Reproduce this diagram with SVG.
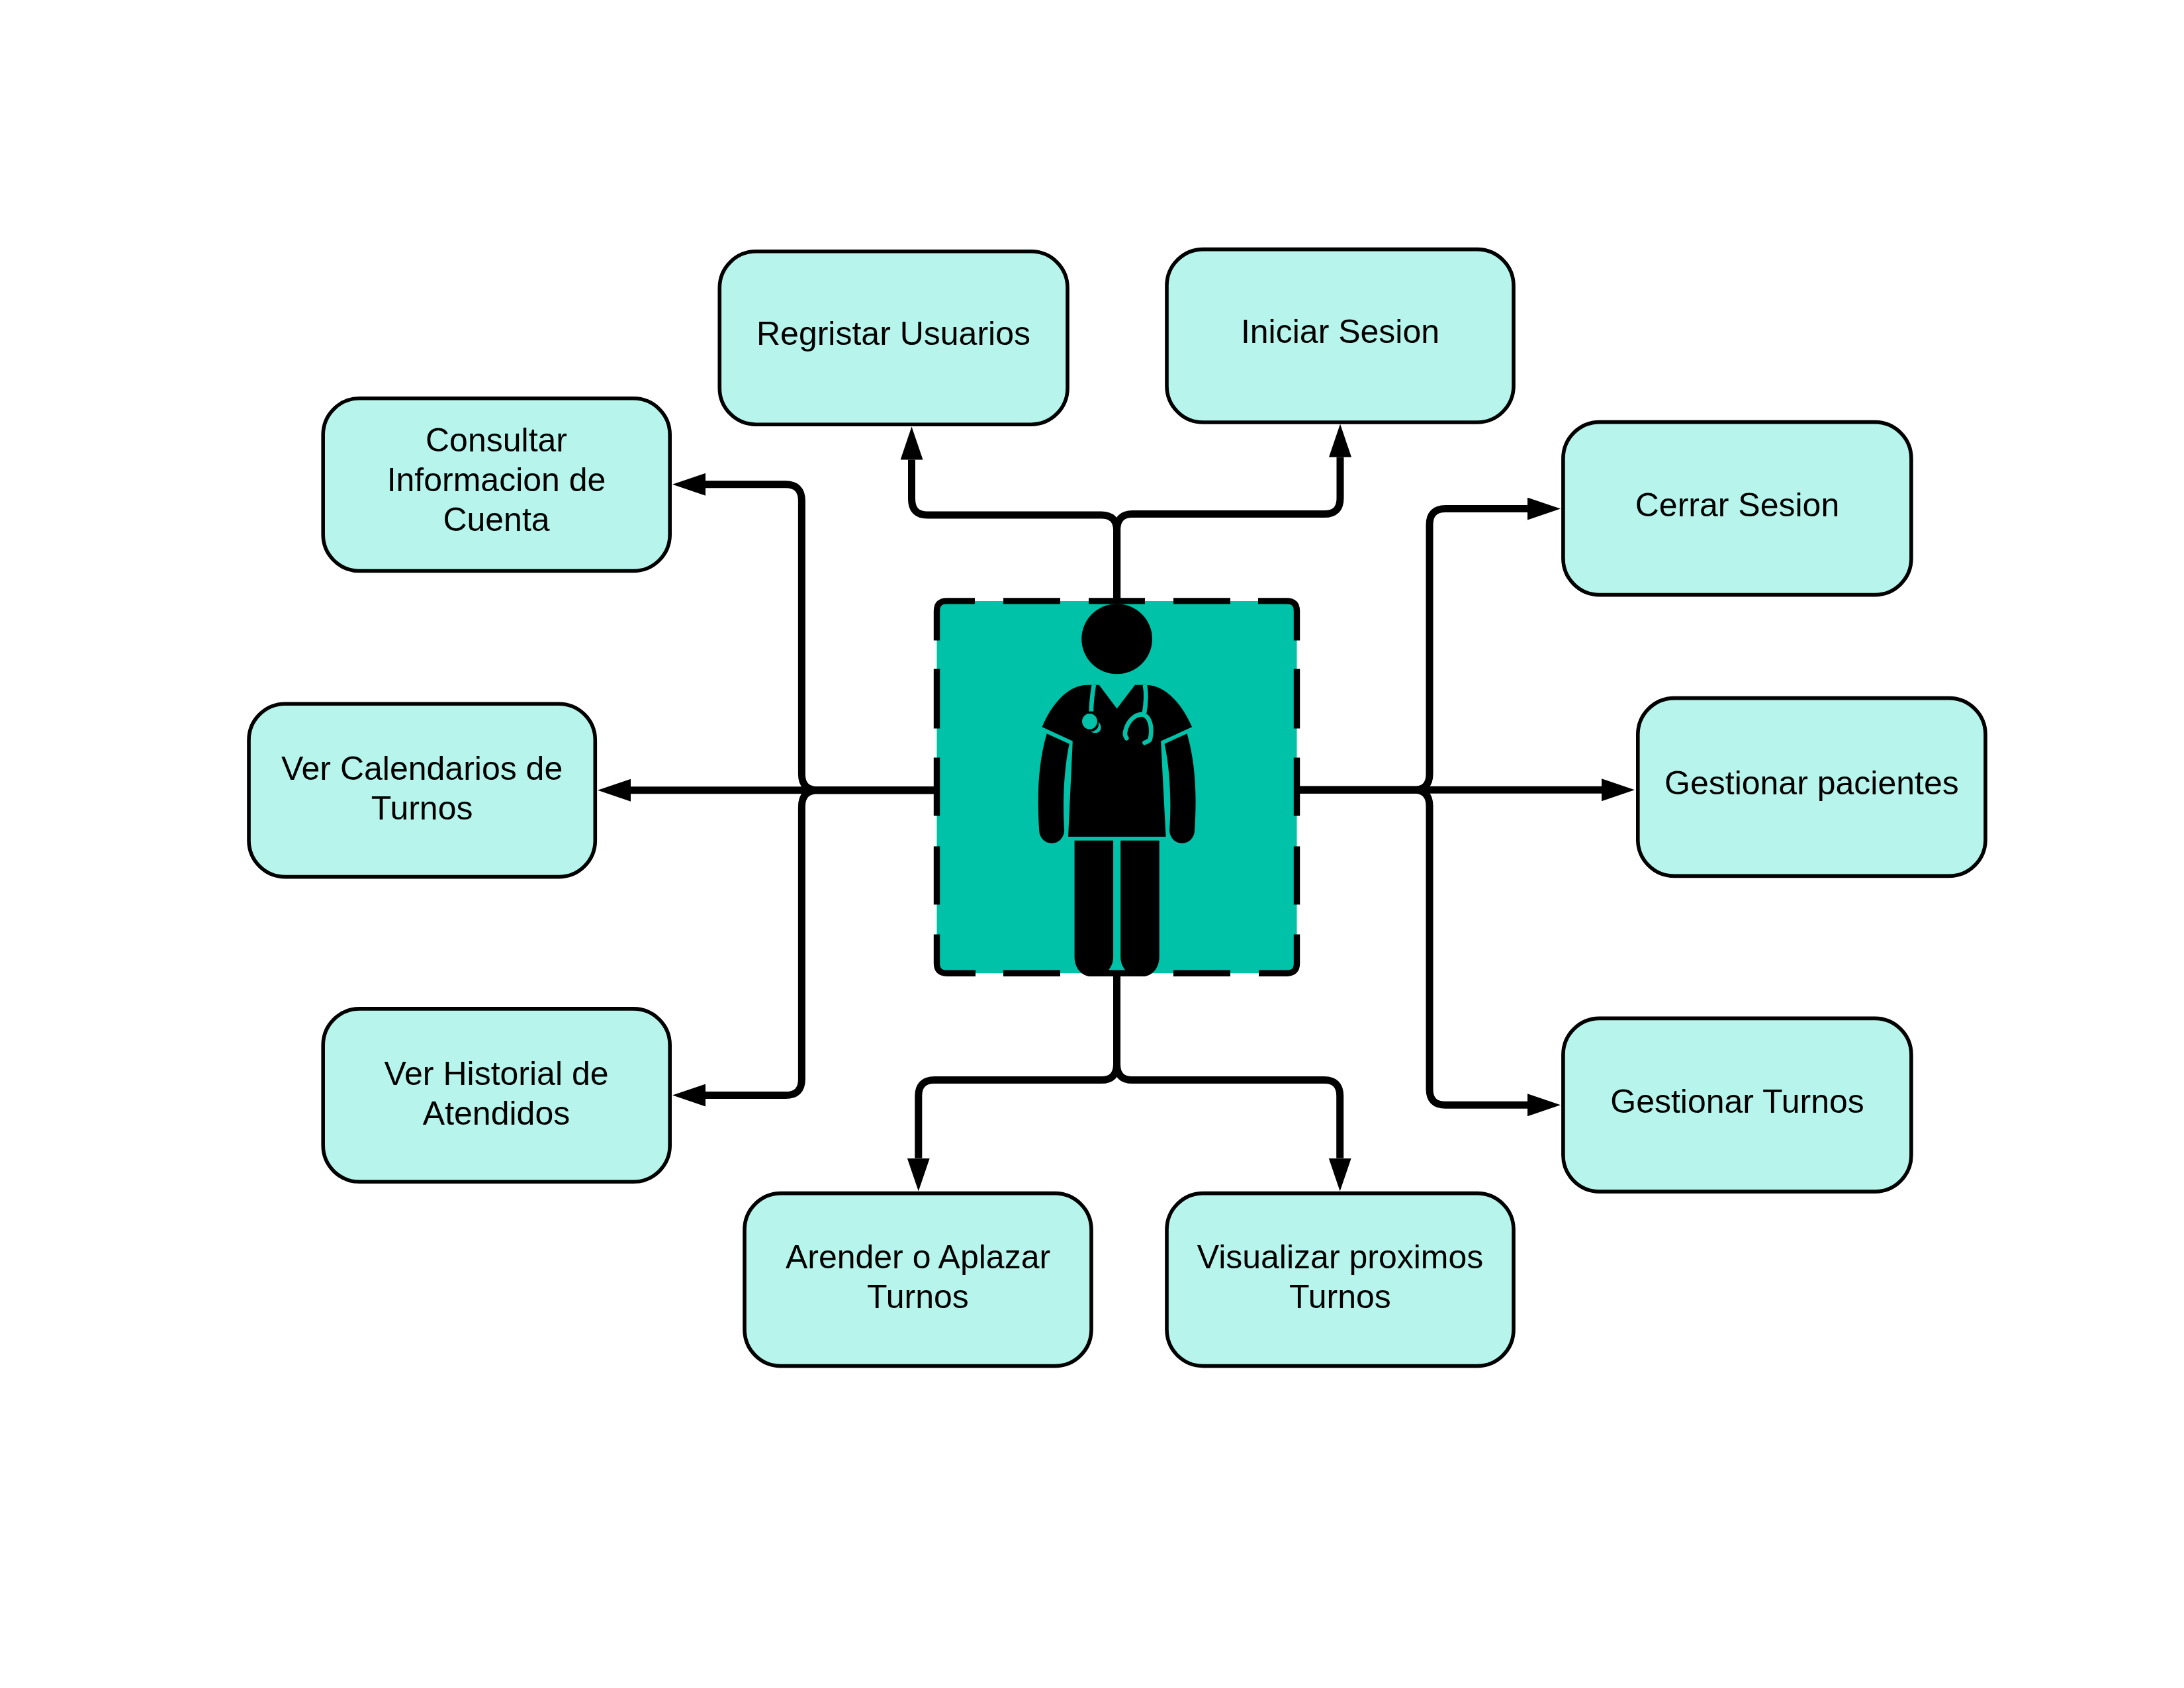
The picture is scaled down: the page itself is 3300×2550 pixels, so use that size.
<svg xmlns="http://www.w3.org/2000/svg" width="3300" height="2550" viewBox="0 0 3300 2550">
<style>
.box{fill:#b7f5ec;stroke:#000;stroke-width:5.6}
.lbl{font-family:"Liberation Sans",Arial,sans-serif;font-size:50px;fill:#000;text-anchor:middle}
.con{fill:none;stroke:#000;stroke-width:11;stroke-linejoin:round;marker-end:url(#arrow)}
.st{fill:none;stroke:#00c2a8;stroke-width:17;stroke-linecap:round}
</style>
<defs>
<marker id="arrow" markerUnits="userSpaceOnUse" markerWidth="52" markerHeight="34" refX="0" refY="17" orient="auto"><path d="M0 0L50 17L0 34Z" fill="#000"/></marker>
</defs>
<rect width="3300" height="2550" fill="#fff"/>
<g transform="translate(0 1.6)">
<g id="connectors">
<path class="con" d="M1687.6 906V800Q1687.6 776.4 1664 776.4H1401Q1377.5 776.4 1377.5 752V693"/>
<path class="con" d="M1687.6 906V799Q1687.6 775 1711 775H2001Q2025 775 2025 751V689"/>
<path class="con" d="M1418 1192.2H1236Q1211.4 1192.2 1211.4 1168V755Q1211.4 730.2 1187 730.2H1066"/>
<path class="con" d="M1418 1192.2H953"/>
<path class="con" d="M1418 1192.2H1236Q1211.4 1192.2 1211.4 1217V1629Q1211.4 1653 1187 1653H1066"/>
<path class="con" d="M1960 1191.7H2136Q2160 1191.7 2160 1168V791Q2160 767 2184 767H2308"/>
<path class="con" d="M1960 1191.7H2420"/>
<path class="con" d="M1960 1191.7H2136Q2160 1191.7 2160 1216V1644Q2160 1667.7 2184 1667.7H2308"/>
<path class="con" d="M1687.5 1470V1606Q1687.5 1630 1664 1630H1412Q1387.8 1630 1387.8 1654V1748"/>
<path class="con" d="M1687.5 1470V1606Q1687.5 1630 1711 1630H2001Q2024.7 1630 2024.7 1654V1748"/>
</g>
<g id="center">
<rect x="1415.5" y="906.3" width="544" height="562.4" rx="14" fill="#00c2a8"/>
<path fill="none" stroke="#000" stroke-width="9.4" d="M1415.5 966V921.3Q1415.5 906.3 1430.5 906.3H1473M1516 906.3H1602M1645 906.3H1730M1773 906.3H1859M1901 906.3H1944.5Q1959.5 906.3 1959.5 921.3V966M1959.5 1009V1099M1959.5 1143V1231M1959.5 1277V1365M1959.5 1410V1453.7Q1959.5 1468.7 1944.5 1468.7H1902M1859 1468.7H1773M1730 1468.7H1645M1602 1468.7H1516M1474 1468.7H1430.5Q1415.5 1468.7 1415.5 1453.7V1410M1415.5 1365V1277M1415.5 1231V1143M1415.5 1099V1009"/>
<g transform="translate(1380 860) scale(.3954 .4082)">
<ellipse cx="778" cy="254" rx="135" ry="130" fill="#000"/>
<path fill="#000" d="M492 580C530 490 595 424 665 424H710L778 512L847 424H890C960 424 1025 490 1065 580L946 632L965 986H592L609 632Z"/>
<path fill="#000" d="M510 604L596 642C575 740 570 860 577 962A48 48 0 0 1 481 962C472 830 478 710 510 604Z"/>
<path fill="#000" d="M1046 604L960 642C982 740 986 860 979 962A48 48 0 0 0 1075 962C1084 830 1078 710 1046 604Z"/>
<path fill="#000" d="M616 1000H764V1430C764 1452 756 1468 745 1481L722 1503H672C640 1498 616 1470 616 1430Z"/>
<path fill="#000" d="M792 1000H940V1430C940 1470 916 1498 884 1503H834L811 1481C800 1468 792 1452 792 1430Z"/>
<path class="st" d="M690 424C684 460 680 490 680 522" style="stroke-linecap:butt"/>
<ellipse cx="674" cy="559" rx="29" ry="29" fill="#00c2a8"/>
<path fill="#00c2a8" d="M708 560C722 575 720 596 702 601C695 603 685 601 678 597C695 596 712 585 708 560Z"/>
<path class="st" d="M885 424C892 460 888 500 882 532" style="stroke-linecap:butt"/>
<path class="st" d="M815 621C808 612 808 605 810 596C818 560 845 532 875 533C905 540 915 580 905 625C902 632 892 634 884 638"/>
</g>
</g>
<g id="n-consultar"><rect class="box" x="488.2" y="600.2" width="524" height="260.7" rx="55"/><text class="lbl" x="750" y="680">Consultar</text><text class="lbl" x="750" y="740">Informacion de</text><text class="lbl" x="750" y="800">Cuenta</text></g>
<g id="n-calendarios"><rect class="box" x="376" y="1061.6" width="523.3" height="261.4" rx="55"/><text class="lbl" x="637.6" y="1176">Ver Calendarios de</text><text class="lbl" x="637.6" y="1236">Turnos</text></g>
<g id="n-historial"><rect class="box" x="488.2" y="1522.3" width="524" height="261.4" rx="55"/><text class="lbl" x="750" y="1637">Ver Historial de</text><text class="lbl" x="750" y="1697">Atendidos</text></g>
<g id="n-registrar"><rect class="box" x="1087.3" y="378.2" width="525.7" height="261.4" rx="55"/><text class="lbl" x="1350" y="519">Regristar Usuarios</text></g>
<g id="n-iniciar"><rect class="box" x="1763" y="375" width="524" height="261.4" rx="55"/><text class="lbl" x="2025" y="516">Iniciar Sesion</text></g>
<g id="n-cerrar"><rect class="box" x="2361.9" y="636" width="526" height="261" rx="55"/><text class="lbl" x="2625" y="778">Cerrar Sesion</text></g>
<g id="n-pacientes"><rect class="box" x="2474.8" y="1053" width="525.2" height="268.8" rx="55"/><text class="lbl" x="2737.4" y="1198">Gestionar pacientes</text></g>
<g id="n-gturnos"><rect class="box" x="2361.9" y="1536.8" width="526" height="261.7" rx="55"/><text class="lbl" x="2625" y="1679">Gestionar Turnos</text></g>
<g id="n-arender"><rect class="box" x="1125" y="1801" width="524" height="261" rx="55"/><text class="lbl" x="1387" y="1914">Arender o Aplazar</text><text class="lbl" x="1387" y="1974">Turnos</text></g>
<g id="n-visualizar"><rect class="box" x="1763" y="1801" width="524" height="261" rx="55"/><text class="lbl" x="2025" y="1914">Visualizar proximos</text><text class="lbl" x="2025" y="1974">Turnos</text></g>
</g>
</svg>
